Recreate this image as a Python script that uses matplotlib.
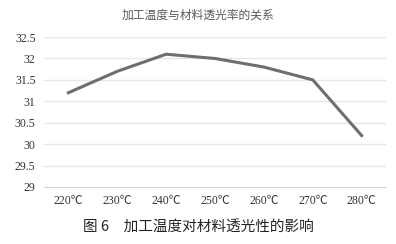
import matplotlib
matplotlib.use('Agg')
import matplotlib.pyplot as plt
import numpy as np

# data
temps = ['220℃', '230℃', '240℃', '250℃', '260℃', '270℃', '280℃']
transmit = [31.2, 31.7, 32.1, 32.0, 31.8, 31.5, 30.2]
yticks = [29, 29.5, 30, 30.5, 31, 31.5, 32, 32.5]

plt.rcParams['font.family'] = ['Noto Sans CJK SC', 'DejaVu Sans']

fig = plt.figure(figsize=(3.96, 2.44), dpi=100)
ax = fig.add_axes([0.111, 0.234, 0.864, 0.614])

x = np.arange(len(temps))
ax.plot(x, transmit, color='#6e6e6e', lw=2.2, solid_joinstyle='miter')

ax.set_xlim(-0.5, len(temps) - 0.5)
ax.set_ylim(29, 32.5)
ax.set_yticks(yticks)
ax.set_yticklabels([f'{v:g}' for v in yticks], family=['Liberation Serif'], fontsize=8.5, color='#333333')
ax.set_xticks(x)
ax.set_xticklabels(temps, family=['Liberation Serif', 'Noto Sans CJK SC'], fontsize=8.5, color='#333333')
ax.tick_params(length=0, pad=6)
ax.grid(axis='y', color='#e6e6e6', lw=1.0)
for s in ax.spines.values():
    s.set_visible(False)
ax.spines['bottom'].set_visible(True)
ax.spines['bottom'].set_color('#d9d9d9')

fig.text(0.5, 0.937, '加工温度与材料透光率的关系', ha='center', va='center', fontsize=8.5, color='#595959')
fig.text(0.5, 0.07, '图 6　加工温度对材料透光性的影响', ha='center', va='center', fontsize=10.5, color='#222222')

fig.savefig('out.png', dpi=100)
